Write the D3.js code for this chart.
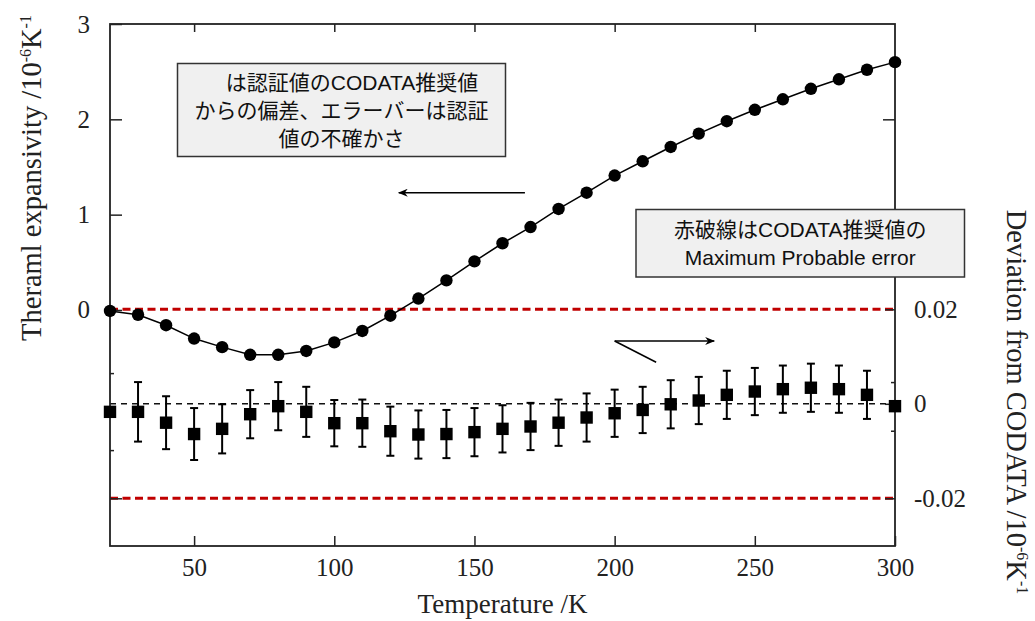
<!DOCTYPE html>
<html lang="ja">
  <head>
    <meta charset="UTF-8" />
    <title>Thermal expansivity</title>
    <style>
      body { margin: 0; background: #fff; }
      .tick text { font-family: "Liberation Serif", "Times New Roman", serif; font-size: 25px; fill: #222; }
      .tick line { stroke: #222; stroke-width: 1.5px; }
      .title { font-family: "Liberation Serif", "Times New Roman", serif; font-size: 27px; fill: #222; }
      .vtitle { font-size: 28.5px; }
      .note { font-family: "Liberation Sans", "Noto Sans CJK JP", sans-serif; font-size: 21px; fill: #111; }
    </style>
  </head>
  <body>
    <div class="chart"></div>
    <script src="https://cdn.jsdelivr.net/npm/d3@7"></script>
    <script>
    var temps = [20, 30, 40, 50, 60, 70, 80, 90, 100, 110, 120, 130, 140, 150, 160,
                 170, 180, 190, 200, 210, 220, 230, 240, 250, 260, 270, 280, 290, 300];
    var expansivity = [-0.01, -0.05, -0.16, -0.30, -0.39, -0.47, -0.47, -0.43, -0.34, -0.22,
                       -0.06, 0.12, 0.31, 0.51, 0.70, 0.87, 1.06, 1.23, 1.41, 1.56,
                       1.71, 1.85, 1.98, 2.10, 2.21, 2.32, 2.42, 2.52, 2.60];
    var deviation = [-0.0017, -0.0017, -0.0040, -0.0064, -0.0053, -0.0022, -0.0005, -0.0017, -0.0041, -0.0041,
                     -0.0058, -0.0065, -0.0064, -0.0060, -0.0053, -0.0048, -0.0040, -0.0029, -0.0020, -0.0013,
                     -0.0001, 0.0007, 0.0019, 0.0026, 0.0031, 0.0034, 0.0031, 0.0019, -0.0005];
    var uncertainty = [0, 0.0063, 0.0056, 0.0055, 0.0052, 0.0051, 0.0051, 0.0053, 0.0049, 0.0050,
                       0.0052, 0.0051, 0.0051, 0.0051, 0.0050, 0.0050, 0.0049, 0.0051, 0.0050, 0.0049,
                       0.0051, 0.0050, 0.0051, 0.0050, 0.0050, 0.0051, 0.0050, 0.0051, 0];
    var maxProbableError = [0.02, -0.02];

    var xTicks = [50, 100, 150, 200, 250, 300];
    var leftTicks = [0, 1, 2, 3];
    var rightTicks = [-0.02, 0, 0.02];
    var leftMinorTicks = [0.0065, -0.0098];
    var rightMinorTicks = [0.0046, -0.0057];

    var box1Lines = ["\u3000は認証値のCODATA推奨値", "からの偏差、エラーバーは認証", "値の不確かさ"];
    var box2Lines = ["赤破線はCODATA推奨値の", "Maximum Probable error"];

    var W = 1035, H = 621;
    var m = {left: 110, top: 24, right: 140, bottom: 75};
    var w = W - m.left - m.right, h = H - m.top - m.bottom;

    var svg = d3.select(".chart").append("svg")
                .attr("width", W)
                .attr("height", H);
    var g = svg.append("g").attr("transform", "translate(" + m.left + "," + m.top + ")");

    var x = d3.scaleLinear().domain([20, 300]).range([0, w]);
    var yL = d3.scaleLinear().domain([-2.476, 3]).range([h, 0]);
    var yR = d3.scaleLinear().domain([-0.0301, 0.0804]).range([h, 0]);

    var rows = temps.map(function(t, i) {
      return {t: t, a: expansivity[i], d: deviation[i], e: uncertainty[i]};
    });

    // red dashed limits
    g.selectAll("line.mpe")
     .data(maxProbableError)
     .enter().append("line")
     .attr("class", "mpe")
     .attr("x1", 0).attr("x2", w)
     .attr("y1", function(d) { return yR(d); })
     .attr("y2", function(d) { return yR(d); })
     .attr("stroke", "#c00000")
     .attr("stroke-width", 3)
     .attr("stroke-dasharray", "8,4.5");

    g.append("line")
     .attr("x1", 0).attr("x2", w)
     .attr("y1", yR(0)).attr("y2", yR(0))
     .attr("stroke", "#111")
     .attr("stroke-width", 1.5)
     .attr("stroke-dasharray", "6,5");

    // frame + ticks
    g.append("rect")
     .attr("width", w).attr("height", h)
     .attr("fill", "none")
     .attr("stroke", "#222")
     .attr("stroke-width", 1.8);

    g.append("g").attr("transform", "translate(0," + h + ")")
     .call(d3.axisBottom(x).tickValues(xTicks).tickSizeInner(-10).tickSizeOuter(0).tickPadding(12));
    g.append("g")
     .call(d3.axisTop(x).tickValues(xTicks.slice(0, 5)).tickSizeInner(-8).tickSizeOuter(0).tickFormat(""));
    g.append("g")
     .call(d3.axisLeft(yL).tickValues(leftTicks).tickSizeInner(-12).tickSizeOuter(0).tickPadding(20)
             .tickFormat(d3.format("d")));
    g.append("g")
     .call(d3.axisLeft(yR).tickValues([-0.02]).tickSizeInner(-12).tickSizeOuter(0).tickFormat(""));
    g.append("g")
     .call(d3.axisLeft(yR).tickValues(leftMinorTicks).tickSizeInner(-4).tickSizeOuter(0).tickFormat(""));
    g.append("g").attr("transform", "translate(" + w + ",0)")
     .call(d3.axisRight(yR).tickValues(rightTicks).tickSizeInner(-10).tickSizeOuter(0).tickPadding(19)
             .tickFormat(function(d) { return d === 0 ? "0" : d.toFixed(2); }));
    g.append("g").attr("transform", "translate(" + w + ",0)")
     .call(d3.axisRight(yR).tickValues(rightMinorTicks).tickSizeInner(-4).tickSizeOuter(0).tickFormat(""));
    g.append("g").attr("transform", "translate(" + w + ",0)")
     .call(d3.axisRight(yL).tickValues([1, 2]).tickSizeInner(-12).tickSizeOuter(0).tickFormat(""));
    g.selectAll(".domain").remove();
    g.selectAll(".tick text").attr("fill", "#222");

    // expansivity curve
    var line = d3.line()
                 .x(function(d) { return x(d.t); })
                 .y(function(d) { return yL(d.a); });
    g.append("path")
     .datum(rows)
     .attr("d", line)
     .attr("fill", "none")
     .attr("stroke", "#000")
     .attr("stroke-width", 1.5);
    g.selectAll("circle.pt")
     .data(rows)
     .enter().append("circle")
     .attr("class", "pt")
     .attr("cx", function(d) { return x(d.t); })
     .attr("cy", function(d) { return yL(d.a); })
     .attr("r", 6.2)
     .attr("fill", "#000");

    // deviation with error bars
    var bars = g.selectAll("g.err")
                .data(rows.filter(function(d) { return d.e > 0; }))
                .enter().append("g")
                .attr("class", "err")
                .attr("stroke", "#000")
                .attr("stroke-width", 2);
    bars.append("line")
        .attr("x1", function(d) { return x(d.t); })
        .attr("x2", function(d) { return x(d.t); })
        .attr("y1", function(d) { return yR(d.d + d.e); })
        .attr("y2", function(d) { return yR(d.d - d.e); });
    bars.append("line")
        .attr("x1", function(d) { return x(d.t) - 4; })
        .attr("x2", function(d) { return x(d.t) + 4; })
        .attr("y1", function(d) { return yR(d.d + d.e); })
        .attr("y2", function(d) { return yR(d.d + d.e); });
    bars.append("line")
        .attr("x1", function(d) { return x(d.t) - 4; })
        .attr("x2", function(d) { return x(d.t) + 4; })
        .attr("y1", function(d) { return yR(d.d - d.e); })
        .attr("y2", function(d) { return yR(d.d - d.e); });

    g.selectAll("rect.sq")
     .data(rows)
     .enter().append("rect")
     .attr("class", "sq")
     .attr("x", function(d) { return x(d.t) - 6.2; })
     .attr("y", function(d) { return yR(d.d) - 6.2; })
     .attr("width", 12.4)
     .attr("height", 12.4)
     .attr("fill", "#000");

    // arrows
    var head = svg.append("defs").append("marker")
                  .attr("id", "head")
                  .attr("viewBox", "0 0 10 8")
                  .attr("refX", 9).attr("refY", 4)
                  .attr("markerWidth", 10).attr("markerHeight", 8)
                  .attr("markerUnits", "userSpaceOnUse")
                  .attr("orient", "auto");
    head.append("path").attr("d", "M0,0L10,4L0,8L3,4Z").attr("fill", "#000");

    g.append("line")
     .attr("x1", x(168)).attr("y1", yL(1.23))
     .attr("x2", x(123)).attr("y2", yL(1.23))
     .attr("stroke", "#000").attr("stroke-width", 1.5)
     .attr("marker-end", "url(#head)");
    g.append("line")
     .attr("x1", x(200)).attr("y1", yR(0.0133))
     .attr("x2", x(235.5)).attr("y2", yR(0.0133))
     .attr("stroke", "#000").attr("stroke-width", 1.5)
     .attr("marker-end", "url(#head)");
    g.append("line")
     .attr("x1", x(200)).attr("y1", yR(0.0133))
     .attr("x2", x(214.8)).attr("y2", yR(0.0088))
     .attr("stroke", "#000").attr("stroke-width", 1.5);

    // note boxes
    function note(x0, y0, bw, bh, lines, base, step) {
      svg.append("rect")
         .attr("x", x0).attr("y", y0)
         .attr("width", bw).attr("height", bh)
         .attr("fill", "#f0f0f0")
         .attr("stroke", "#333")
         .attr("stroke-width", 1.5);
      svg.selectAll(null)
         .data(lines)
         .enter().append("text")
         .attr("class", "note")
         .attr("x", x0 + bw / 2)
         .attr("y", function(d, i) { return base + i * step; })
         .attr("text-anchor", "middle")
         .text(function(d) { return d; });
    }
    note(177.5, 63.5, 328, 93, box1Lines, 90, 28);
    note(636, 209.5, 328.5, 67.5, box2Lines, 237, 28);

    // axis titles
    svg.append("text")
       .attr("class", "title")
       .attr("x", m.left + w / 2)
       .attr("y", 613)
       .attr("text-anchor", "middle")
       .text("Temperature /K");

    function unitTitle(sel, label) {
      sel.append("tspan").text(label + "/10");
      sel.append("tspan").attr("font-size", 16).attr("dy", -10).text("-6");
      sel.append("tspan").attr("dy", 10).text("K");
      sel.append("tspan").attr("font-size", 16).attr("dy", -10).text("-1");
    }
    var tl = svg.append("text")
                .attr("class", "title vtitle")
                .attr("text-anchor", "middle")
                .attr("transform", "translate(41,178) rotate(-90)");
    unitTitle(tl, "Theraml expansivity ");
    var tr = svg.append("text")
                .attr("class", "title vtitle")
                .attr("text-anchor", "middle")
                .attr("transform", "translate(1007,402) rotate(90)");
    unitTitle(tr, "Deviation from CODATA ");
    </script>
  </body>
</html>
